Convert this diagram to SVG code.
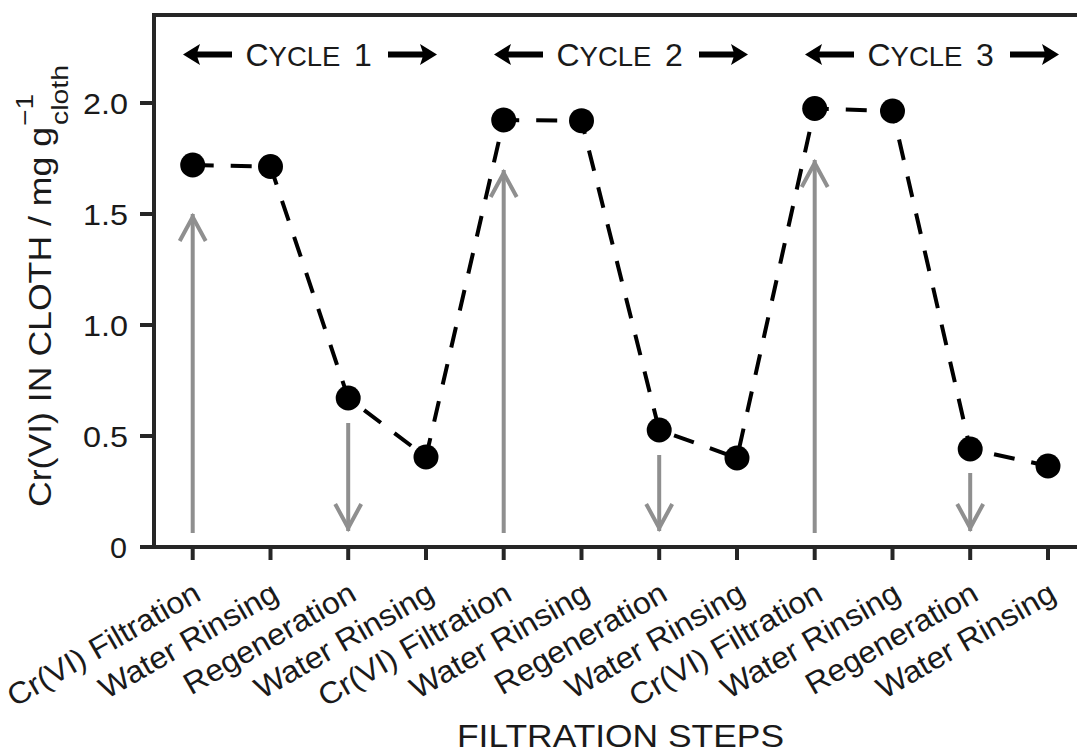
<svg xmlns="http://www.w3.org/2000/svg" xmlns:xlink="http://www.w3.org/1999/xlink" width="1077" height="752" viewBox="0 0 1077 752">
<style>
  .txt { font-family: "Liberation Sans", Arial, sans-serif; fill: #1a1a1a; }
  .ytick { font-size: 30px; text-anchor: end; }
  .xtick { font-size: 30.5px; text-anchor: end; }
  .spine { stroke: #262626; stroke-width: 4; fill: none; }
  .tick { stroke: #262626; stroke-width: 4; }
  .gray { stroke: #8f8f8f; stroke-width: 4; fill: none; marker-end: url(#chev); }
  .dash { stroke: #000; stroke-width: 4; fill: none; stroke-dasharray: 21 17; }
  .pt { fill: #000; }
  .hdr { font-size: 32px; }
  .sc { font-size: 27.5px; }
</style>
<defs>
  <marker id="chev" markerUnits="userSpaceOnUse" markerWidth="40" markerHeight="40" viewBox="-32 -20 40 40" refX="0" refY="0" orient="auto" overflow="visible">
    <path d="M-27,-13 L-3,0 L-27,13" fill="none" stroke="#8f8f8f" stroke-width="4"/>
  </marker>
  <path id="larr" d="M0,0 L17,-10.5 L14.5,-3 L49,-3 L49,3 L14.5,3 L17,10.5 Z" fill="#000"/>
  <path id="rarr" d="M49,0 L32,-10.5 L34.5,-3 L0,-3 L0,3 L34.5,3 L32,10.5 Z" fill="#000"/>
</defs>
<rect width="1077" height="752" fill="#fff"/>

<g id="axes">
  <path class="spine" d="M154,13 V549 M152,15 H1077 M152,547 H1077"/>
  <g id="yticks">
    <line class="tick" x1="140" y1="547" x2="154" y2="547"/>
    <line class="tick" x1="140" y1="436" x2="154" y2="436"/>
    <line class="tick" x1="140" y1="325" x2="154" y2="325"/>
    <line class="tick" x1="140" y1="214" x2="154" y2="214"/>
    <line class="tick" x1="140" y1="103" x2="154" y2="103"/>
  </g>
  <g id="ytick-labels" class="txt ytick">
    <text x="127" y="558" textLength="17" lengthAdjust="spacingAndGlyphs">0</text>
    <text x="128" y="447" textLength="45" lengthAdjust="spacingAndGlyphs">0.5</text>
    <text x="128" y="336" textLength="45" lengthAdjust="spacingAndGlyphs">1.0</text>
    <text x="128" y="225" textLength="45" lengthAdjust="spacingAndGlyphs">1.5</text>
    <text x="128" y="114" textLength="45" lengthAdjust="spacingAndGlyphs">2.0</text>
  </g>
  <g id="xticks">
    <line class="tick" x1="192.7" y1="547" x2="192.7" y2="560"/>
    <line class="tick" x1="270.5" y1="547" x2="270.5" y2="560"/>
    <line class="tick" x1="348.2" y1="547" x2="348.2" y2="560"/>
    <line class="tick" x1="426" y1="547" x2="426" y2="560"/>
    <line class="tick" x1="503.7" y1="547" x2="503.7" y2="560"/>
    <line class="tick" x1="581.5" y1="547" x2="581.5" y2="560"/>
    <line class="tick" x1="659.2" y1="547" x2="659.2" y2="560"/>
    <line class="tick" x1="737" y1="547" x2="737" y2="560"/>
    <line class="tick" x1="814.7" y1="547" x2="814.7" y2="560"/>
    <line class="tick" x1="892.5" y1="547" x2="892.5" y2="560"/>
    <line class="tick" x1="970.2" y1="547" x2="970.2" y2="560"/>
    <line class="tick" x1="1048" y1="547" x2="1048" y2="560"/>
  </g>
  <g id="xtick-labels" class="txt xtick">
    <text x="202.7" y="599" transform="rotate(-30 202.7 599)" textLength="217" lengthAdjust="spacingAndGlyphs">Cr(VI) Filtration</text>
    <text x="280.5" y="599" transform="rotate(-30 280.5 599)" textLength="201" lengthAdjust="spacingAndGlyphs">Water Rinsing</text>
    <text x="358.2" y="599" transform="rotate(-30 358.2 599)" textLength="193" lengthAdjust="spacingAndGlyphs">Regeneration</text>
    <text x="436" y="599" transform="rotate(-30 436 599)" textLength="201" lengthAdjust="spacingAndGlyphs">Water Rinsing</text>
    <text x="513.7" y="599" transform="rotate(-30 513.7 599)" textLength="217" lengthAdjust="spacingAndGlyphs">Cr(VI) Filtration</text>
    <text x="591.5" y="599" transform="rotate(-30 591.5 599)" textLength="201" lengthAdjust="spacingAndGlyphs">Water Rinsing</text>
    <text x="669.2" y="599" transform="rotate(-30 669.2 599)" textLength="193" lengthAdjust="spacingAndGlyphs">Regeneration</text>
    <text x="747" y="599" transform="rotate(-30 747 599)" textLength="201" lengthAdjust="spacingAndGlyphs">Water Rinsing</text>
    <text x="824.7" y="599" transform="rotate(-30 824.7 599)" textLength="217" lengthAdjust="spacingAndGlyphs">Cr(VI) Filtration</text>
    <text x="902.5" y="599" transform="rotate(-30 902.5 599)" textLength="201" lengthAdjust="spacingAndGlyphs">Water Rinsing</text>
    <text x="980.2" y="599" transform="rotate(-30 980.2 599)" textLength="193" lengthAdjust="spacingAndGlyphs">Regeneration</text>
    <text x="1058" y="599" transform="rotate(-30 1058 599)" textLength="201" lengthAdjust="spacingAndGlyphs">Water Rinsing</text>
  </g>
  <text id="xlabel" class="txt" x="457" y="747" font-size="30.5" textLength="327" lengthAdjust="spacingAndGlyphs">FILTRATION STEPS</text>
  <text id="ylabel" class="txt" font-size="31" transform="translate(51,507) rotate(-90)"><tspan x="0" y="0" textLength="380" lengthAdjust="spacingAndGlyphs">Cr(VI) IN CLOTH / mg g</tspan><tspan x="381" y="-18.5" font-size="24" textLength="32" lengthAdjust="spacingAndGlyphs">−1</tspan><tspan x="382" y="17" font-size="24" textLength="60" lengthAdjust="spacingAndGlyphs">cloth</tspan></text>
</g>

<g id="cycle-headers">
  <g id="cycle1">
    <use xlink:href="#larr" x="183" y="54.5"/>
    <text class="txt hdr" x="245.5" y="65.5">C<tspan class="sc">YCLE</tspan><tspan x="354">1</tspan></text>
    <use xlink:href="#rarr" x="388" y="54.5"/>
  </g>
  <g id="cycle2">
    <use xlink:href="#larr" x="494" y="54.5"/>
    <text class="txt hdr" x="556.5" y="65.5">C<tspan class="sc">YCLE</tspan><tspan x="665">2</tspan></text>
    <use xlink:href="#rarr" x="699" y="54.5"/>
  </g>
  <g id="cycle3">
    <use xlink:href="#larr" x="805" y="54.5"/>
    <text class="txt hdr" x="867.5" y="65.5">C<tspan class="sc">YCLE</tspan><tspan x="976">3</tspan></text>
    <use xlink:href="#rarr" x="1010" y="54.5"/>
  </g>
</g>

<g id="connectors">
  <polyline class="dash" points="192.7,165 270.5,166.5 348.2,398 426,457 503.7,120 581.5,120.7 659.2,430 737,458 814.7,108.5 892.5,111 970.2,449 1048,466"/>
  <line class="gray" x1="192.7" y1="533" x2="192.7" y2="214"/>
  <line class="gray" x1="348.2" y1="423" x2="348.2" y2="531"/>
  <line class="gray" x1="503.7" y1="533" x2="503.7" y2="170"/>
  <line class="gray" x1="659.2" y1="455" x2="659.2" y2="531"/>
  <line class="gray" x1="814.7" y1="533" x2="814.7" y2="160"/>
  <line class="gray" x1="970.2" y1="473" x2="970.2" y2="531"/>
</g>

<g id="points">
  <circle id="p1" class="pt" cx="192.7" cy="165" r="12.5"/>
  <circle id="p2" class="pt" cx="270.5" cy="166.5" r="12.5"/>
  <circle id="p3" class="pt" cx="348.2" cy="398" r="12.5"/>
  <circle id="p4" class="pt" cx="426" cy="457" r="12.5"/>
  <circle id="p5" class="pt" cx="503.7" cy="120" r="12.5"/>
  <circle id="p6" class="pt" cx="581.5" cy="120.7" r="12.5"/>
  <circle id="p7" class="pt" cx="659.2" cy="430" r="12.5"/>
  <circle id="p8" class="pt" cx="737" cy="458" r="12.5"/>
  <circle id="p9" class="pt" cx="814.7" cy="108.5" r="12.5"/>
  <circle id="p10" class="pt" cx="892.5" cy="111" r="12.5"/>
  <circle id="p11" class="pt" cx="970.2" cy="449" r="12.5"/>
  <circle id="p12" class="pt" cx="1048" cy="466" r="12.5"/>
</g>
</svg>
